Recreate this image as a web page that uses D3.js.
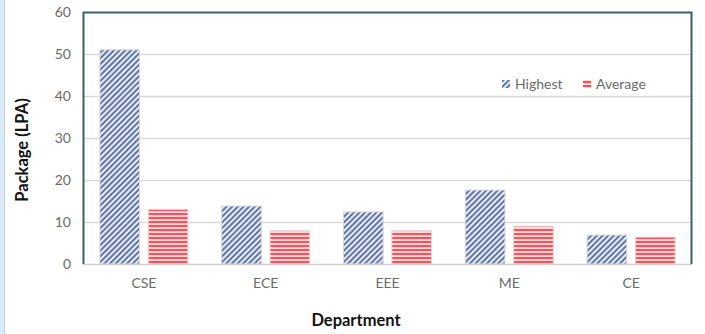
<!DOCTYPE html>
<html>
<head>
<meta charset="utf-8">
<script src="https://cdn.jsdelivr.net/npm/d3@7"></script>
<style>
  body { margin: 0; background: #fff; }
  svg { display: block; }
</style>
</head>
<body>
<script>
// data
var departments = ["CSE", "ECE", "EEE", "ME", "CE"];
var highest = [51, 13.8, 12.4, 17.6, 6.9];
var average = [13, 7.9, 7.9, 9, 6.4];
var seriesNames = ["Highest", "Average"];
var yTicks = [0, 10, 20, 30, 40, 50, 60];

var W = 705, H = 334;
var margin = {left: 83, right: 13, top: 12, bottom: 70};
var width = W - margin.left - margin.right;
var height = H - margin.top - margin.bottom;
var font = "Lato, 'Open Sans', sans-serif";

var svg = d3.select("body").append("svg")
    .attr("width", W)
    .attr("height", H);

// patterns
var defs = svg.append("defs");
var hatch = defs.append("pattern")
    .attr("id", "hatch")
    .attr("patternUnits", "userSpaceOnUse")
    .attr("width", 4).attr("height", 4)
    .attr("patternTransform", "rotate(45)");
hatch.append("rect").attr("width", 4).attr("height", 4).attr("fill", "#e8ecf4");
hatch.append("rect").attr("width", 2).attr("height", 4).attr("fill", "#6276a6");

var stripes = defs.append("pattern")
    .attr("id", "stripes")
    .attr("patternUnits", "userSpaceOnUse")
    .attr("width", 4).attr("height", 4)
    .attr("y", 1);
stripes.append("rect").attr("width", 4).attr("height", 4).attr("fill", "#ffd6d8");
stripes.append("rect").attr("width", 4).attr("height", 2).attr("fill", "#ff5058");

// light blue strip on left
svg.append("rect").attr("x", 0).attr("y", 0).attr("width", 4).attr("height", H).attr("fill", "#dcebf8");
svg.append("line").attr("x1", 4.5).attr("x2", 4.5).attr("y1", 0).attr("y2", H)
    .attr("stroke", "#c9d3dc").attr("stroke-width", 1);

var g = svg.append("g")
    .attr("transform", "translate(" + margin.left + "," + margin.top + ")");

var y = d3.scaleLinear().domain([0, 60]).range([height, 0]);
var x0 = d3.scaleBand().domain(departments).range([0, width]);
var x1 = d3.scaleBand().domain(seriesNames)
    .range([x0.bandwidth() / 2 - 44, x0.bandwidth() / 2 + 44])
    .paddingInner(0.18);

// gridlines
g.selectAll(".grid")
    .data(yTicks.slice(1, -1))
    .enter().append("line")
    .attr("x1", 0).attr("x2", width)
    .attr("y1", function(d) { return y(d) + 0.5; })
    .attr("y2", function(d) { return y(d) + 0.5; })
    .attr("stroke", "#d9d9d9")
    .attr("stroke-width", 1.3);

// bars
var rows = departments.map(function(d, i) {
  return {dep: d, values: [{s: "Highest", v: highest[i]}, {s: "Average", v: average[i]}]};
});

var groups = g.selectAll(".dep")
    .data(rows)
    .enter().append("g")
    .attr("transform", function(d) { return "translate(" + x0(d.dep) + ",0)"; });

groups.selectAll("rect")
    .data(function(d) { return d.values; })
    .enter().append("rect")
    .attr("x", function(d) { return x1(d.s); })
    .attr("width", x1.bandwidth())
    .attr("y", function(d) { return y(d.v); })
    .attr("height", function(d) { return height - y(d.v); })
    .attr("fill", function(d) { return d.s == "Highest" ? "url(#hatch)" : "url(#stripes)"; })
    .attr("stroke", "#d8d8d8")
    .attr("stroke-width", 1);

// bottom axis line
g.append("line")
    .attr("x1", 0).attr("x2", width)
    .attr("y1", height + 0.5).attr("y2", height + 0.5)
    .attr("stroke", "#d0d0d0").attr("stroke-width", 1.5);

// frame: left, top, right
g.append("path")
    .attr("d", "M0.5," + height + "V0.5H" + (width - 0.5) + "V" + height)
    .attr("fill", "none")
    .attr("stroke", "#3f5f73")
    .attr("stroke-width", 2);

// y tick labels
var yAxis = d3.axisLeft(y).tickValues(yTicks).tickSize(0).tickPadding(12);
var yAxisG = g.append("g").call(yAxis);
yAxisG.select(".domain").remove();
yAxisG.selectAll("text")
    .style("font-family", font)
    .style("font-size", "14px")
    .attr("fill", "#6a6a6a");

// x tick labels
var xAxis = d3.axisBottom(x0).tickSize(0).tickPadding(14);
var xAxisG = g.append("g").attr("transform", "translate(0," + height + ")").call(xAxis);
xAxisG.select(".domain").remove();
xAxisG.selectAll("text")
    .style("font-family", font)
    .style("font-size", "14px")
    .attr("fill", "#6a6a6a");

// axis titles
svg.append("text")
    .attr("transform", "rotate(-90)")
    .attr("x", -(margin.top + height / 2) - 12)
    .attr("y", 28)
    .attr("text-anchor", "middle")
    .style("font-family", font)
    .style("font-weight", "bold")
    .style("font-size", "16.5px")
    .attr("fill", "#111")
    .text("Package (LPA)");

svg.append("text")
    .attr("x", 356)
    .attr("y", 326)
    .attr("text-anchor", "middle")
    .style("font-family", font)
    .style("font-weight", "bold")
    .style("font-size", "16.5px")
    .attr("fill", "#111")
    .text("Department");

// legend
var legendX = [502, 583];
var legend = svg.selectAll(".legend")
    .data(seriesNames)
    .enter().append("g")
    .attr("transform", function(d, i) { return "translate(" + legendX[i] + ",80)"; });

legend.append("rect")
    .attr("width", 8).attr("height", 8)
    .attr("fill", function(d) { return d == "Highest" ? "url(#hatch)" : "url(#stripes)"; });

legend.append("text")
    .attr("x", 13)
    .attr("y", 9)
    .style("font-family", font)
    .style("font-size", "14px")
    .attr("fill", "#6a6a6a")
    .text(function(d) { return d; });
</script>
</body>
</html>
